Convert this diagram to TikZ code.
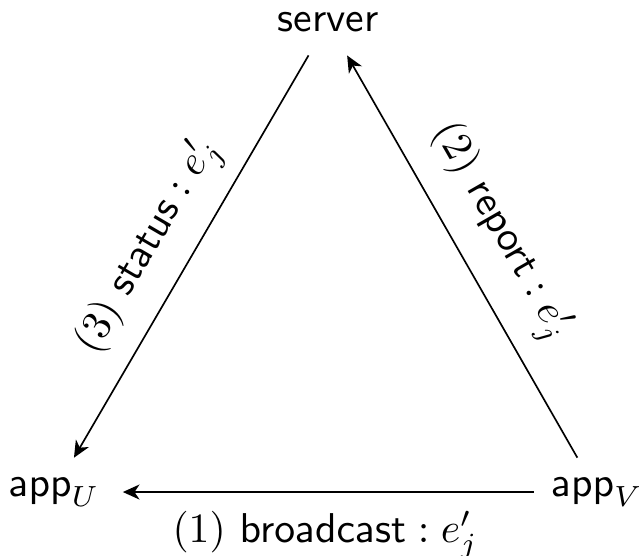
\documentclass[tikz,border=0pt]{standalone}
\usetikzlibrary{arrows.meta}
\begin{document}
\begin{tikzpicture}[x=0.24pt,y=-0.24pt,
  vert/.style={inner sep=2pt},
  conn/.style={-{Stealth[length=4pt,width=3.6pt,inset=1.2pt]}, line width=0.4pt},
  lbl/.style={sloped}]
\useasboundingbox (0,0) rectangle (639,555);
\node[vert] (server) at (328,22) {\textsf{server}};
\node[vert] (appU) at (54,492) {$\mathsf{app}_U$};
\node[vert] (appV) at (597,492) {$\mathsf{app}_V$};
\draw[conn, shorten <=4pt, shorten >=3pt] (server) -- (appU)
  node[lbl, pos=0.53, above=0.5pt] {$(3)\ \mathsf{status} : e'_j$};
\draw[conn, shorten <=3pt, shorten >=4pt] (appV) -- (server)
  node[lbl, pos=0.5, above=1.5pt] {$(2)\ \mathsf{report} : e'_j$};
\draw[conn, shorten <=2pt, shorten >=3.4pt] (appV) -- (appU)
  node[midway, below=1pt] {$(1)\ \mathsf{broadcast} : e'_j$};
\end{tikzpicture}
\end{document}
